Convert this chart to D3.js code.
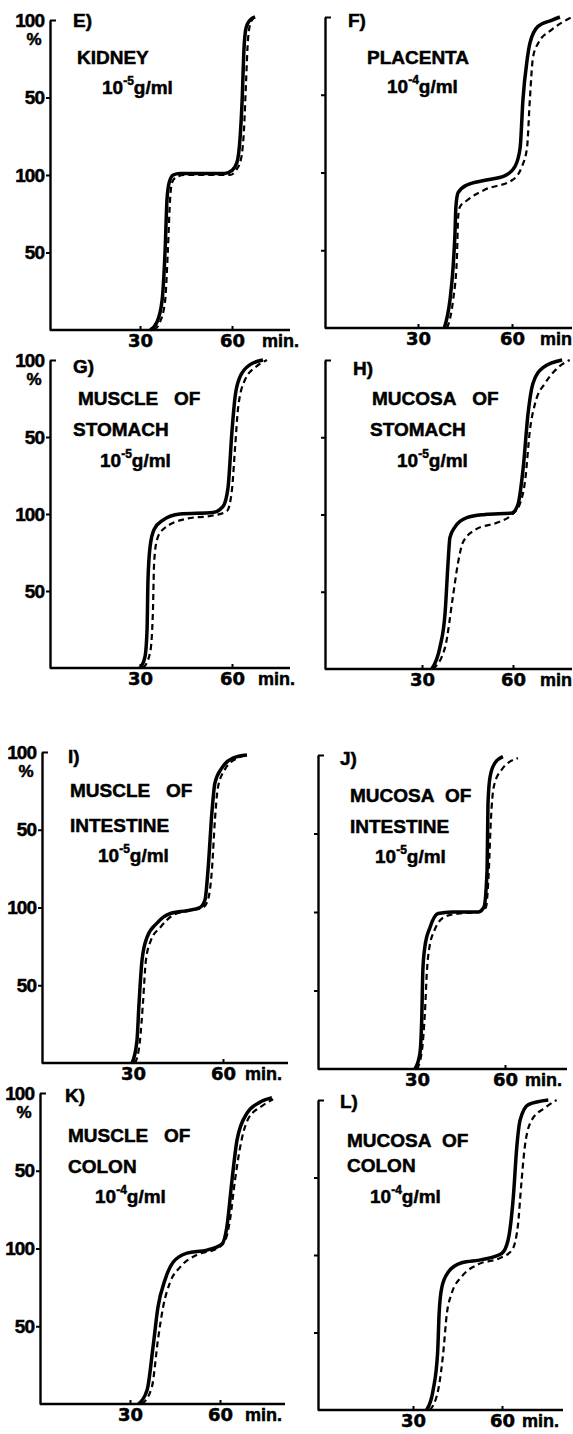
<!DOCTYPE html>
<html>
<head>
<meta charset="utf-8">
<script src="https://cdn.jsdelivr.net/npm/d3@7"></script>
<style>
body { margin: 0; background: #fff; }
svg { display: block; }
text { font-family: "Liberation Sans", Arial, sans-serif; font-weight: bold; fill: #000; stroke: #000; stroke-width: 0.5px; }
.num { font-family: "DejaVu Sans", sans-serif; font-size: 18px; }
.ynum { font-family: "Liberation Sans", Arial, sans-serif; font-size: 19px; letter-spacing: -1px; }
</style>
</head>
<body>
<svg id="chart" width="573" height="1434"></svg>
<script>
// y axis stacks two 0-100 % steps, so 0..200 internally
const yTickValues = [50, 100, 150, 200];
const yTickLabels = ["50", "100", "50", "100"];
const xTickValues = [30, 60];

const panelLetters = ["E)", "F)", "G)", "H)", "I)", "J)", "K)", "L)"];
const panelTitles = [
    ["KIDNEY"],
    ["PLACENTA"],
    ["MUSCLE\u00a0\u00a0\u00a0OF", "STOMACH"],
    ["MUCOSA\u00a0\u00a0\u00a0OF", "STOMACH"],
    ["MUSCLE\u00a0\u00a0\u00a0OF", "INTESTINE"],
    ["MUCOSA\u00a0\u00a0OF", "INTESTINE"],
    ["MUSCLE\u00a0\u00a0\u00a0OF", "COLON"],
    ["MUCOSA\u00a0\u00a0OF", "COLON"]
];
const concExponents = ["-5", "-4", "-5", "-5", "-5", "-5", "-4", "-4"];
const unitLabels = ["min.", "min", "min.", "min", "min.", "min.", "min.", "min."];

// [minutes, percent (0-200)]
const kidneySolid = [[33.3,0],[35.5,5],[37.2,19],[38.2,52],[38.8,84],[39.5,95],[40.8,100],[43,101],[57.7,101],[60,103],[61.6,108],[62.6,123],[63.3,148],[63.9,181],[64.6,195],[65.9,200],[67.5,202]];
const kidneyDashed = [[34.6,0],[36.5,5],[38.2,19],[39.1,52],[39.8,84],[40.4,95],[42.1,99],[44.7,100],[59.3,100],[61.3,103],[62.9,110],[63.9,129],[64.6,161],[65.2,187],[66.2,199],[67.8,202]];

const placentaSolid = [[38.4,0],[40.2,18],[41.2,39],[41.8,61],[42.1,78],[42.8,87],[45.6,92],[51.4,95],[57.8,98],[61,104],[62.6,116],[63.5,147],[64.8,172],[65.7,183],[68.3,194],[72.8,198],[75.3,200]];
const placentaDashed = [[39.3,0],[41.2,18],[42.4,44],[42.8,71],[43.4,78],[45.6,82],[51.4,89],[60,95],[63.2,104],[64.8,116],[65.7,147],[66.7,174],[68.3,183],[72.8,192],[79.2,200]];

const stomachMuscleSolid = [[30,0],[31.6,7],[32.3,25],[32.6,57],[33.3,79],[34.6,90],[37.5,96],[43,100],[53.8,101],[57.1,105],[58.7,117],[60,154],[61,176],[62.6,189],[65.9,197],[70.1,200]];
const stomachMuscleDashed = [[31,0],[33.3,10],[34.2,36],[34.6,68],[35.5,83],[37.5,90],[45.3,97],[53.8,99],[58.4,102],[60,116],[61,143],[62,169],[64.2,187],[68.1,196],[71.4,200]];

const stomachMucosaSolid = [[33.2,0],[35.9,14],[37.6,36],[38.6,69],[39.2,85],[40.9,92],[44.8,98],[50.8,100],[59.7,101],[61.7,107],[63.3,129],[65,166],[66.6,185],[69.9,195],[76.2,200]];
const stomachMucosaDashed = [[33.6,0],[37.6,14],[40.2,47],[41.9,69],[43.5,82],[47.5,90],[55.1,95],[59.7,100],[62.3,107],[64,122],[65.6,155],[67.3,172],[70.6,185],[74.8,195],[78.7,200]];

const intestineMuscleSolid = [[29.7,0],[31.3,14],[32,38],[33,66],[34.7,81],[38,90],[42.3,96],[48,98],[52.3,100],[54,105],[55,124],[56.3,161],[57.3,180],[59.7,190],[63.3,196],[68,198]];
const intestineMuscleDashed = [[30.7,0],[32.3,14],[33.3,38],[34.3,66],[36,79],[39,87],[43.3,95],[49,98],[53.3,100],[55,105],[56.3,124],[57.3,156],[58.3,177],[60.7,189],[64.7,196],[68,198]];

const intestineMucosaSolid = [[29.3,0],[31,10],[31.6,31],[32,63],[32.7,78],[34.4,90],[37.2,99],[41.9,100],[50.8,100],[52.8,103],[53.9,127],[54.2,169],[54.9,186],[56.6,195],[59.3,199]];
const intestineMucosaDashed = [[30,0],[31.7,12],[32.7,36],[33.4,63],[34.1,76],[36.1,89],[39.5,97],[44,99],[51.1,100],[53.5,103],[54.5,127],[55.2,159],[56.2,180],[59,191],[64.4,198]];

const colonMuscleSolid = [[32.8,0],[35.7,9],[37.7,37],[39.3,62],[41.7,80],[44.3,91],[49,97],[55.7,99],[60.7,103],[62.3,114],[64,144],[65.7,170],[69,187],[73.3,194],[77.3,197]];
const colonMuscleDashed = [[34,0],[37.3,11],[39.3,41],[41,62],[43.3,78],[46.7,88],[52.3,96],[59,100],[61.7,105],[63.3,118],[65,144],[66.7,165],[69.3,183],[74.3,192],[77.7,196]];

const colonMucosaSolid = [[34.6,0],[36.8,13],[38.3,37],[38.8,62],[39.7,79],[41.9,89],[46.4,95],[53.2,97],[59.9,101],[62.1,110],[63.8,137],[65,170],[66.1,187],[68.9,197],[75.6,200]];
const colonMucosaDashed = [[35.7,0],[38.5,13],[40.2,37],[41.4,62],[43,75],[46.4,86],[52,94],[59.3,98],[63.3,103],[65.3,118],[66.6,148],[67.7,170],[70,187],[74.5,195],[78.4,200]];

const solidSeries = [kidneySolid, placentaSolid, stomachMuscleSolid, stomachMucosaSolid,
                     intestineMuscleSolid, intestineMucosaSolid, colonMuscleSolid, colonMucosaSolid];
const dashedSeries = [kidneyDashed, placentaDashed, stomachMuscleDashed, stomachMucosaDashed,
                      intestineMuscleDashed, intestineMucosaDashed, colonMuscleDashed, colonMucosaDashed];

// panel frames (pixels)
const frames = [
    {x0: 50,  top: 20,   bottom: 330,  x30: 140, x60: 232, right: 290, letter: [73, 27],    lines: [[77, 64]],                conc: [102, 94],   unitX: 262, left: true},
    {x0: 325, top: 17,   bottom: 328,  x30: 418, x60: 512, right: 572, letter: [348, 27],   lines: [[367, 64]],               conc: [387, 93],   unitX: 540, left: false},
    {x0: 50,  top: 360,  bottom: 668,  x30: 140, x60: 232, right: 290, letter: [73, 373],   lines: [[78, 405], [73, 436]],    conc: [100, 467],  unitX: 258, left: true},
    {x0: 325, top: 360,  bottom: 669,  x30: 422, x60: 513, right: 572, letter: [353, 375],  lines: [[372, 405], [370, 436]],  conc: [397, 467],  unitX: 540, left: false},
    {x0: 42,  top: 752,  bottom: 1063, x30: 133, x60: 223, right: 288, letter: [68, 763],   lines: [[70, 797], [70, 832]],    conc: [98, 862],   unitX: 245, left: true},
    {x0: 318, top: 755,  bottom: 1069, x30: 417, x60: 505, right: 567, letter: [340, 765],  lines: [[350, 802], [350, 833]],  conc: [375, 863],  unitX: 525, left: false},
    {x0: 40,  top: 1093, bottom: 1404, x30: 130, x60: 220, right: 285, letter: [65, 1102],  lines: [[68, 1142], [68, 1173]],  conc: [95, 1203],  unitX: 245, left: true},
    {x0: 318, top: 1100, bottom: 1410, x30: 413, x60: 502, right: 563, letter: [340, 1108], lines: [[347, 1147], [347, 1172]], conc: [370, 1203], unitX: 522, left: false}
];

const svg = d3.select("#chart");

frames.forEach((f, i) => {
    let g = svg.append("g");

    let scX = d3.scaleLinear().domain([30, 60]).range([f.x30, f.x60]);
    let scY = d3.scaleLinear().domain([0, 200]).range([f.bottom, f.top]);

    // y axis
    let axY = g.append("g")
        .attr("transform", `translate(${f.x0},0)`)
        .call(d3.axisLeft(scY)
            .tickValues(yTickValues)
            .tickSize(4)
            .tickSizeOuter(0)
            .tickPadding(2)
            .tickFormat((d, k) => f.left ? yTickLabels[k] : ""));
    axY.attr("font-family", null).attr("font-size", null);
    axY.select(".domain").attr("stroke-width", 2.4);
    axY.selectAll(".tick line").attr("stroke-width", 2);
    axY.selectAll(".tick").filter(d => d === 200).select("line").attr("x2", 6);
    axY.selectAll(".tick text").attr("class", "ynum").attr("fill", "#000");

    if (f.left) {
        g.append("text")
            .attr("x", f.x0 - 16)
            .attr("y", f.top + 25)
            .attr("text-anchor", "middle")
            .style("font-size", "17px")
            .text("%");
    }

    // x axis
    g.append("line")
        .attr("x1", f.x0).attr("x2", f.right)
        .attr("y1", f.bottom).attr("y2", f.bottom)
        .attr("stroke", "#000").attr("stroke-width", 2.4);

    let axX = g.append("g")
        .attr("transform", `translate(0,${f.bottom})`)
        .call(d3.axisBottom(scX)
            .tickValues(xTickValues)
            .tickSize(-4)
            .tickSizeOuter(0)
            .tickPadding(4)
            .tickFormat(d3.format("d")));
    axX.attr("font-family", null).attr("font-size", null);
    axX.select(".domain").remove();
    axX.selectAll(".tick line").attr("stroke-width", 2);
    axX.selectAll(".tick text").attr("class", "num").attr("fill", "#000");

    g.append("text")
        .attr("x", f.unitX)
        .attr("y", f.bottom + 17)
        .style("font-size", "18px")
        .text(unitLabels[i]);

    // labels
    g.append("text")
        .attr("x", f.letter[0]).attr("y", f.letter[1])
        .style("font-size", "19px")
        .text(panelLetters[i]);

    panelTitles[i].forEach((t, k) => {
        g.append("text")
            .attr("x", f.lines[k][0]).attr("y", f.lines[k][1])
            .style("font-size", "19px")
            .text(t);
    });

    let conc = g.append("text")
        .attr("x", f.conc[0]).attr("y", f.conc[1])
        .style("font-size", "19px");
    conc.append("tspan").text("10");
    conc.append("tspan").attr("dy", -9).style("font-size", "12px").text(concExponents[i]);
    conc.append("tspan").attr("dy", 9).text("g/ml");

    // curves
    let line = d3.line()
        .x(d => scX(d[0]))
        .y(d => scY(d[1]))
        .curve(d3.curveMonotoneX);

    g.append("path")
        .attr("d", line(dashedSeries[i]))
        .attr("fill", "none")
        .attr("stroke", "#000")
        .attr("stroke-width", 2.2)
        .attr("stroke-dasharray", "6,4");

    g.append("path")
        .attr("d", line(solidSeries[i]))
        .attr("fill", "none")
        .attr("stroke", "#000")
        .attr("stroke-width", 3.5);
});
</script>
</body>
</html>
